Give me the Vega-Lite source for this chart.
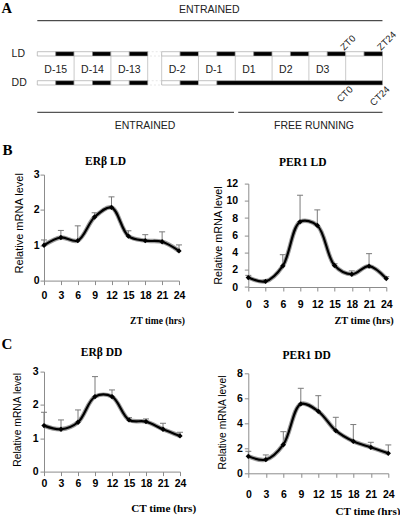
{
  "$schema": "https://vega.github.io/schema/vega-lite/v6.json",
  "padding": 0,
  "background": "white",
  "config": {
    "view": {"stroke": null},
    "font": "Liberation Sans",
    "axis": {"grid": false, "domainColor": "#8c8c8c", "tickColor": "#8c8c8c", "tickSize": 4, "domainWidth": 1, "tickWidth": 1,
      "labelFont": "Liberation Sans", "labelFontWeight": "bold", "labelFontSize": 10.5, "labelColor": "#000",
      "titleFont": "Liberation Sans", "titleFontWeight": "normal", "titleColor": "#000", "labelOverlap": false, "labelFlush": false},
    "title": {"font": "Liberation Serif", "fontWeight": "bold", "fontSize": 11.5, "color": "#000", "anchor": "middle", "frame": "group"},
    "text": {"font": "Liberation Sans", "color": "#222"}
  },
  "datasets": {
    "expr": [
      {"panel": "BL", "time": 0, "value": 1.00, "upper": 1.15},
      {"panel": "BL", "time": 3, "value": 1.22, "upper": 1.42},
      {"panel": "BL", "time": 6, "value": 1.13, "upper": 1.55},
      {"panel": "BL", "time": 9, "value": 1.80, "upper": 1.92},
      {"panel": "BL", "time": 12, "value": 2.07, "upper": 2.37},
      {"panel": "BL", "time": 15, "value": 1.26, "upper": 1.41},
      {"panel": "BL", "time": 18, "value": 1.13, "upper": 1.30},
      {"panel": "BL", "time": 21, "value": 1.10, "upper": 1.38},
      {"panel": "BL", "time": 24, "value": 0.84, "upper": 1.01},
      {"panel": "BR", "time": 0, "value": 1.10, "upper": 1.35},
      {"panel": "BR", "time": 3, "value": 0.66, "upper": 0.85},
      {"panel": "BR", "time": 6, "value": 2.45, "upper": 3.75},
      {"panel": "BR", "time": 9, "value": 7.56, "upper": 10.65},
      {"panel": "BR", "time": 12, "value": 7.14, "upper": 8.95},
      {"panel": "BR", "time": 15, "value": 2.50, "upper": 2.70},
      {"panel": "BR", "time": 18, "value": 1.48, "upper": 1.87},
      {"panel": "BR", "time": 21, "value": 2.42, "upper": 3.87},
      {"panel": "BR", "time": 24, "value": 0.98, "upper": 1.20},
      {"panel": "CL", "time": 0, "value": 1.38, "upper": 1.78},
      {"panel": "CL", "time": 3, "value": 1.27, "upper": 1.55},
      {"panel": "CL", "time": 6, "value": 1.48, "upper": 1.85},
      {"panel": "CL", "time": 9, "value": 2.25, "upper": 2.85},
      {"panel": "CL", "time": 12, "value": 2.25, "upper": 2.45},
      {"panel": "CL", "time": 15, "value": 1.55, "upper": 1.62},
      {"panel": "CL", "time": 18, "value": 1.50, "upper": 1.58},
      {"panel": "CL", "time": 21, "value": 1.27, "upper": 1.45},
      {"panel": "CL", "time": 24, "value": 1.07, "upper": 1.18},
      {"panel": "CR", "time": 0, "value": 1.36, "upper": 1.76},
      {"panel": "CR", "time": 3, "value": 1.09, "upper": 1.47},
      {"panel": "CR", "time": 6, "value": 2.29, "upper": 3.33},
      {"panel": "CR", "time": 9, "value": 5.55, "upper": 6.80},
      {"panel": "CR", "time": 12, "value": 4.96, "upper": 6.21},
      {"panel": "CR", "time": 15, "value": 3.41, "upper": 4.48},
      {"panel": "CR", "time": 18, "value": 2.56, "upper": 3.90},
      {"panel": "CR", "time": 21, "value": 2.08, "upper": 2.48},
      {"panel": "CR", "time": 24, "value": 1.60, "upper": 2.27}
    ],
    "bars": [
      {"row": "LD", "start": 0, "end": 0.5, "phase": "light"},
      {"row": "LD", "start": 0.5, "end": 1, "phase": "dark"},
      {"row": "LD", "start": 1, "end": 1.5, "phase": "light"},
      {"row": "LD", "start": 1.5, "end": 2, "phase": "dark"},
      {"row": "LD", "start": 2, "end": 2.5, "phase": "light"},
      {"row": "LD", "start": 2.5, "end": 3, "phase": "dark"},
      {"row": "LD", "start": 3.38, "end": 3.88, "phase": "light"},
      {"row": "LD", "start": 3.88, "end": 4.38, "phase": "dark"},
      {"row": "LD", "start": 4.38, "end": 4.88, "phase": "light"},
      {"row": "LD", "start": 4.88, "end": 5.38, "phase": "dark"},
      {"row": "LD", "start": 5.38, "end": 5.88, "phase": "light"},
      {"row": "LD", "start": 5.88, "end": 6.38, "phase": "dark"},
      {"row": "LD", "start": 6.38, "end": 6.88, "phase": "light"},
      {"row": "LD", "start": 6.88, "end": 7.38, "phase": "dark"},
      {"row": "LD", "start": 7.38, "end": 7.88, "phase": "light"},
      {"row": "LD", "start": 7.88, "end": 8.38, "phase": "dark"},
      {"row": "LD", "start": 8.38, "end": 8.88, "phase": "light"},
      {"row": "LD", "start": 8.88, "end": 9.38, "phase": "dark"},
      {"row": "DD", "start": 0, "end": 0.5, "phase": "light"},
      {"row": "DD", "start": 0.5, "end": 1, "phase": "dark"},
      {"row": "DD", "start": 1, "end": 1.5, "phase": "light"},
      {"row": "DD", "start": 1.5, "end": 2, "phase": "dark"},
      {"row": "DD", "start": 2, "end": 2.5, "phase": "light"},
      {"row": "DD", "start": 2.5, "end": 3, "phase": "dark"},
      {"row": "DD", "start": 3.38, "end": 3.88, "phase": "light"},
      {"row": "DD", "start": 3.88, "end": 4.38, "phase": "dark"},
      {"row": "DD", "start": 4.38, "end": 4.88, "phase": "light"},
      {"row": "DD", "start": 4.88, "end": 9.38, "phase": "dark"}
    ],
    "days": [
      {"label": "D-15", "start": 0},
      {"label": "D-14", "start": 1},
      {"label": "D-13", "start": 2},
      {"label": "D-2", "start": 3.38},
      {"label": "D-1", "start": 4.38},
      {"label": "D1", "start": 5.38},
      {"label": "D2", "start": 6.38},
      {"label": "D3", "start": 7.38}
    ],
    "edges": [
      {"at": 1}, {"at": 2}, {"at": 3}, {"at": 3.38}, {"at": 4.38}, {"at": 5.38},
      {"at": 6.38}, {"at": 7.38}, {"at": 8.38}, {"at": 9.38}
    ],
    "phases": [
      {"label": "ENTRAINED", "start": 0, "end": 5.345, "mid": 2.93},
      {"label": "FREE RUNNING", "start": 5.46, "end": 9.38, "mid": 7.52}
    ],
    "clock": [
      {"label": "ZT0", "at": 8.38, "row": "LD"},
      {"label": "ZT24", "at": 9.38, "row": "LD"},
      {"label": "CT0", "at": 8.38, "row": "DD"},
      {"label": "CT24", "at": 9.38, "row": "DD"}
    ]
  },
  "spacing": -2,
  "hconcat": [
    {
      "width": 8,
      "height": 515,
      "layer": [
        {"data": {"values": [{}]},
         "mark": {"type": "text", "font": "Liberation Serif", "fontWeight": "bold", "fontSize": 14.5, "align": "left", "baseline": "middle", "color": "#000"},
         "encoding": {"text": {"value": "A"},
           "x": {"datum": 0.2, "type": "quantitative", "scale": {"domain": [0, 1]}, "axis": null},
           "y": {"datum": 0.0171, "type": "quantitative", "scale": {"domain": [0, 1], "reverse": true}, "axis": null}}},
        {"data": {"values": [{}]},
         "mark": {"type": "text", "font": "Liberation Serif", "fontWeight": "bold", "fontSize": 15, "align": "left", "baseline": "middle", "color": "#000"},
         "encoding": {"text": {"value": "B"},
           "x": {"datum": 0.3, "type": "quantitative", "scale": {"domain": [0, 1]}, "axis": null},
           "y": {"datum": 0.2913, "type": "quantitative", "scale": {"domain": [0, 1], "reverse": true}, "axis": null}}},
        {"data": {"values": [{}]},
         "mark": {"type": "text", "font": "Liberation Serif", "fontWeight": "bold", "fontSize": 15, "align": "left", "baseline": "middle", "color": "#000"},
         "encoding": {"text": {"value": "C"},
           "x": {"datum": 0.2, "type": "quantitative", "scale": {"domain": [0, 1]}, "axis": null},
           "y": {"datum": 0.6676, "type": "quantitative", "scale": {"domain": [0, 1], "reverse": true}, "axis": null}}}
      ]
    },
    {
      "spacing": 23.6,
      "vconcat": [
        {
          "width": 350,
          "height": 130,
          "layer": [
            {"data": {"values": [{}]},
             "mark": {"type": "rect", "fill": "#ffffff", "stroke": "#d6d6d6", "strokeWidth": 0.6, "strokeDash": [2, 2]},
             "encoding": {"x": {"datum": 3, "type": "quantitative", "scale": {"domain": [0.182, 9.693]}, "axis": null}, "x2": {"datum": 3.38},
               "y": {"datum": 5.17, "type": "quantitative", "scale": {"domain": [0, 13], "reverse": true}, "axis": null}, "y2": {"datum": 5.6}}},
            {"data": {"values": [{}]},
             "mark": {"type": "rect", "fill": "#ffffff", "stroke": "#d6d6d6", "strokeWidth": 0.6, "strokeDash": [2, 2]},
             "encoding": {"x": {"datum": 3, "type": "quantitative", "scale": {"domain": [0.182, 9.693]}, "axis": null}, "x2": {"datum": 3.38},
               "y": {"datum": 8.07, "type": "quantitative", "scale": {"domain": [0, 13], "reverse": true}, "axis": null}, "y2": {"datum": 8.5}}},
            {"data": {"name": "edges"},
             "mark": {"type": "rule", "color": "#bdbdbd", "strokeWidth": 0.8},
             "encoding": {"x": {"field": "at", "type": "quantitative", "scale": {"domain": [0.182, 9.693]}, "axis": null},
               "y": {"datum": 5.6, "type": "quantitative", "scale": {"domain": [0, 13], "reverse": true}, "axis": null}, "y2": {"datum": 8.07}}},
            {"data": {"name": "bars"},
             "transform": [{"filter": "datum.row === 'LD'"}],
             "mark": {"type": "rect", "stroke": "#9a9a9a", "strokeWidth": 0.6},
             "encoding": {"x": {"field": "start", "type": "quantitative", "scale": {"domain": [0.182, 9.693]}, "axis": null}, "x2": {"field": "end"},
               "y": {"datum": 5.17, "type": "quantitative", "scale": {"domain": [0, 13], "reverse": true}, "axis": null}, "y2": {"datum": 5.6},
               "fill": {"field": "phase", "type": "nominal", "scale": {"domain": ["light", "dark"], "range": ["#ffffff", "#000000"]}, "legend": null}}},
            {"data": {"name": "bars"},
             "transform": [{"filter": "datum.row === 'DD'"}],
             "mark": {"type": "rect", "stroke": "#9a9a9a", "strokeWidth": 0.6},
             "encoding": {"x": {"field": "start", "type": "quantitative", "scale": {"domain": [0.182, 9.693]}, "axis": null}, "x2": {"field": "end"},
               "y": {"datum": 8.07, "type": "quantitative", "scale": {"domain": [0, 13], "reverse": true}, "axis": null}, "y2": {"datum": 8.5},
               "fill": {"field": "phase", "type": "nominal", "scale": {"domain": ["light", "dark"], "range": ["#ffffff", "#000000"]}, "legend": null}}},
            {"data": {"name": "days"},
             "mark": {"type": "text", "align": "left", "baseline": "middle", "dx": 7, "fontSize": 10.5, "color": "#222"},
             "encoding": {"x": {"field": "start", "type": "quantitative", "scale": {"domain": [0.182, 9.693]}, "axis": null},
               "y": {"datum": 7.0, "type": "quantitative", "scale": {"domain": [0, 13], "reverse": true}, "axis": null},
               "text": {"field": "label"}}},
            {"data": {"values": [{}]},
             "mark": {"type": "rule", "color": "#222", "strokeWidth": 1},
             "encoding": {"x": {"datum": 0, "type": "quantitative", "scale": {"domain": [0.182, 9.693]}, "axis": null}, "x2": {"datum": 9.38},
               "y": {"datum": 2.07, "type": "quantitative", "scale": {"domain": [0, 13], "reverse": true}, "axis": null}}},
            {"data": {"values": [{}]},
             "mark": {"type": "text", "align": "center", "baseline": "middle", "fontSize": 10.5, "color": "#222"},
             "encoding": {"text": {"value": "ENTRAINED"},
               "x": {"datum": 4.674, "type": "quantitative", "scale": {"domain": [0.182, 9.693]}, "axis": null},
               "y": {"datum": 1.03, "type": "quantitative", "scale": {"domain": [0, 13], "reverse": true}, "axis": null}}},
            {"data": {"name": "phases"},
             "mark": {"type": "rule", "color": "#555", "strokeWidth": 1.3},
             "encoding": {"x": {"field": "start", "type": "quantitative", "scale": {"domain": [0.182, 9.693]}, "axis": null}, "x2": {"field": "end"},
               "y": {"datum": 11.23, "type": "quantitative", "scale": {"domain": [0, 13], "reverse": true}, "axis": null}}},
            {"data": {"name": "phases"},
             "mark": {"type": "text", "align": "center", "baseline": "middle", "fontSize": 10.5, "color": "#222"},
             "encoding": {"x": {"field": "mid", "type": "quantitative", "scale": {"domain": [0.182, 9.693]}, "axis": null},
               "y": {"datum": 12.57, "type": "quantitative", "scale": {"domain": [0, 13], "reverse": true}, "axis": null},
               "text": {"field": "label"}}},
            {"data": {"name": "clock"},
             "transform": [{"filter": "datum.row === 'LD'"}],
             "mark": {"type": "text", "align": "left", "baseline": "alphabetic", "angle": -45, "dx": -2, "fontSize": 9.5, "color": "#222"},
             "encoding": {"x": {"field": "at", "type": "quantitative", "scale": {"domain": [0.182, 9.693]}, "axis": null},
               "y": {"datum": 4.95, "type": "quantitative", "scale": {"domain": [0, 13], "reverse": true}, "axis": null},
               "text": {"field": "label"}}},
            {"data": {"name": "clock"},
             "transform": [{"filter": "datum.row === 'DD'"}],
             "mark": {"type": "text", "align": "right", "baseline": "top", "angle": -45, "dx": 3, "fontSize": 9.5, "color": "#222"},
             "encoding": {"x": {"field": "at", "type": "quantitative", "scale": {"domain": [0.182, 9.693]}, "axis": null},
               "y": {"datum": 8.65, "type": "quantitative", "scale": {"domain": [0, 13], "reverse": true}, "axis": null},
               "text": {"field": "label"}}},
            {"data": {"values": [{}]},
             "mark": {"type": "text", "align": "left", "baseline": "middle", "fontSize": 10.5, "color": "#222"},
             "encoding": {"text": {"value": "LD"},
               "x": {"datum": -0.698, "type": "quantitative", "scale": {"domain": [0.182, 9.693]}, "axis": null},
               "y": {"datum": 5.37, "type": "quantitative", "scale": {"domain": [0, 13], "reverse": true}, "axis": null}}},
            {"data": {"values": [{}]},
             "mark": {"type": "text", "align": "left", "baseline": "middle", "fontSize": 10.5, "color": "#222"},
             "encoding": {"text": {"value": "DD"},
               "x": {"datum": -0.698, "type": "quantitative", "scale": {"domain": [0.182, 9.693]}, "axis": null},
               "y": {"datum": 8.3, "type": "quantitative", "scale": {"domain": [0, 13], "reverse": true}, "axis": null}}}
          ]
        },
        {
          "spacing": 16.3,
          "hconcat": [
            {
              "spacing": 21,
              "vconcat": [
                {
                  "width": 135, "height": 106,
                  "title": {"text": "ERβ LD", "dx": -6, "offset": 2, "fontSize": 11.5},
                  "data": {"name": "expr"},
                  "transform": [{"filter": "datum.panel === 'BL'"}],
                  "encoding": {
                    "x": {"field": "time", "type": "quantitative", "scale": {"domain": [0, 24]},
                      "axis": {"values": [0, 3, 6, 9, 12, 15, 18, 21, 24], "title": "ZT time (hrs)", "titleFont": "Liberation Serif", "titleFontWeight": "bold", "titleFontSize": 9.5,
                        "titleAlign": "right", "titleBaseline": "middle", "titleX": 140.3, "titleY": 40.3, "labelPadding": 10.8, "labelBaseline": "middle"}},
                    "y": {"field": "value", "type": "quantitative", "scale": {"domain": [0, 3]},
                      "axis": {"values": [0, 1, 2, 3], "title": "Relative mRNA level", "titleFontSize": 11, "titleX": -25, "titleY": 48.2, "titleBaseline": "middle", "labelPadding": 1}}
                  },
                  "layer": [
                    {"mark": {"type": "rule", "color": "#7a7a7a", "strokeWidth": 1}, "encoding": {"y2": {"field": "upper"}}},
                    {"mark": {"type": "tick", "orient": "horizontal", "color": "#7a7a7a", "size": 6, "thickness": 1, "opacity": 1},
                     "encoding": {"y": {"field": "upper", "type": "quantitative", "title": "Relative mRNA level"}}},
                    {"mark": {"type": "line", "interpolate": "catmull-rom", "color": "#9b9b9b", "strokeWidth": 4.4}},
                    {"mark": {"type": "line", "interpolate": "catmull-rom", "color": "#000", "strokeWidth": 2.2}},
                    {"mark": {"type": "point", "shape": "diamond", "filled": true, "color": "#000", "size": 28, "opacity": 1}}
                  ]
                },
                {
                  "width": 136, "height": 100,
                  "title": {"text": "ERβ DD", "dx": -10.4, "offset": 7.8, "fontSize": 11.5},
                  "data": {"name": "expr"},
                  "transform": [{"filter": "datum.panel === 'CL'"}],
                  "encoding": {
                    "x": {"field": "time", "type": "quantitative", "scale": {"domain": [0, 24]},
                      "axis": {"values": [0, 3, 6, 9, 12, 15, 18, 21, 24], "title": "CT time (hrs)", "titleFont": "Liberation Serif", "titleFontWeight": "bold", "titleFontSize": 11.2,
                        "titleAlign": "right", "titleBaseline": "middle", "titleX": 151.7, "titleY": 36.7, "labelPadding": 8.2, "labelBaseline": "middle"}},
                    "y": {"field": "value", "type": "quantitative", "scale": {"domain": [0, 3]},
                      "axis": {"values": [0, 1, 2, 3], "title": "Relative mRNA level", "titleFontSize": 10.3, "titleX": -26.3, "titleY": 47.7, "titleBaseline": "middle", "labelPadding": 2}}
                  },
                  "layer": [
                    {"mark": {"type": "rule", "color": "#7a7a7a", "strokeWidth": 1}, "encoding": {"y2": {"field": "upper"}}},
                    {"mark": {"type": "tick", "orient": "horizontal", "color": "#7a7a7a", "size": 6, "thickness": 1, "opacity": 1},
                     "encoding": {"y": {"field": "upper", "type": "quantitative", "title": "Relative mRNA level"}}},
                    {"mark": {"type": "line", "interpolate": "catmull-rom", "color": "#9b9b9b", "strokeWidth": 4.4}},
                    {"mark": {"type": "line", "interpolate": "catmull-rom", "color": "#000", "strokeWidth": 2.2}},
                    {"mark": {"type": "point", "shape": "diamond", "filled": true, "color": "#000", "size": 28, "opacity": 1}}
                  ]
                }
              ]
            },
            {
              "spacing": 23.7,
              "vconcat": [
                {
                  "width": 138, "height": 112.4,
                  "title": {"text": "PER1 LD", "dx": -14.6, "offset": 6, "fontSize": 11.5},
                  "data": {"name": "expr"},
                  "transform": [{"filter": "datum.panel === 'BR'"}],
                  "encoding": {
                    "x": {"field": "time", "type": "quantitative", "scale": {"domain": [0, 24]},
                      "axis": {"values": [0, 3, 6, 9, 12, 15, 18, 21, 24], "title": "ZT time (hrs)", "titleFont": "Liberation Serif", "titleFontWeight": "bold", "titleFontSize": 10.3,
                        "titleAlign": "right", "titleBaseline": "middle", "titleX": 145, "titleY": 33.3, "labelPadding": 13.8, "labelBaseline": "middle"}},
                    "y": {"field": "value", "type": "quantitative", "scale": {"domain": [0, 12], "range": [112.4, 9]},
                      "axis": {"values": [0, 2, 4, 6, 8, 10, 12], "title": "Relative mRNA level", "titleFontSize": 10.8, "titleX": -30, "titleY": 60.4, "titleBaseline": "middle", "labelPadding": 6.6}}
                  },
                  "layer": [
                    {"mark": {"type": "rule", "color": "#7a7a7a", "strokeWidth": 1}, "encoding": {"y2": {"field": "upper"}}},
                    {"mark": {"type": "tick", "orient": "horizontal", "color": "#7a7a7a", "size": 6, "thickness": 1, "opacity": 1},
                     "encoding": {"y": {"field": "upper", "type": "quantitative", "title": "Relative mRNA level"}}},
                    {"mark": {"type": "line", "interpolate": "catmull-rom", "color": "#9b9b9b", "strokeWidth": 4.4}},
                    {"mark": {"type": "line", "interpolate": "catmull-rom", "color": "#000", "strokeWidth": 2.2}},
                    {"mark": {"type": "point", "shape": "diamond", "filled": true, "color": "#000", "size": 28, "opacity": 1}}
                  ]
                },
                {
                  "width": 140, "height": 100,
                  "title": {"text": "PER1 DD", "dx": -11.6, "offset": 6.8, "fontSize": 11.5},
                  "data": {"name": "expr"},
                  "transform": [{"filter": "datum.panel === 'CR'"}],
                  "encoding": {
                    "x": {"field": "time", "type": "quantitative", "scale": {"domain": [0, 24]},
                      "axis": {"values": [0, 3, 6, 9, 12, 15, 18, 21, 24], "title": "CT time (hrs)", "titleFont": "Liberation Serif", "titleFontWeight": "bold", "titleFontSize": 11.2,
                        "titleAlign": "right", "titleBaseline": "middle", "titleX": 151.7, "titleY": 37.7, "labelPadding": 17.2, "labelBaseline": "middle"}},
                    "y": {"field": "value", "type": "quantitative", "scale": {"domain": [0, 8]},
                      "axis": {"values": [0, 2, 4, 6, 8], "title": "Relative mRNA level", "titleFontSize": 10.3, "titleX": -26.3, "titleY": 48.7, "titleBaseline": "middle", "labelPadding": 2}}
                  },
                  "layer": [
                    {"mark": {"type": "rule", "color": "#7a7a7a", "strokeWidth": 1}, "encoding": {"y2": {"field": "upper"}}},
                    {"mark": {"type": "tick", "orient": "horizontal", "color": "#7a7a7a", "size": 6, "thickness": 1, "opacity": 1},
                     "encoding": {"y": {"field": "upper", "type": "quantitative", "title": "Relative mRNA level"}}},
                    {"mark": {"type": "line", "interpolate": "catmull-rom", "color": "#9b9b9b", "strokeWidth": 4.4}},
                    {"mark": {"type": "line", "interpolate": "catmull-rom", "color": "#000", "strokeWidth": 2.2}},
                    {"mark": {"type": "point", "shape": "diamond", "filled": true, "color": "#000", "size": 28, "opacity": 1}}
                  ]
                }
              ]
            }
          ]
        }
      ]
    }
  ]
}
